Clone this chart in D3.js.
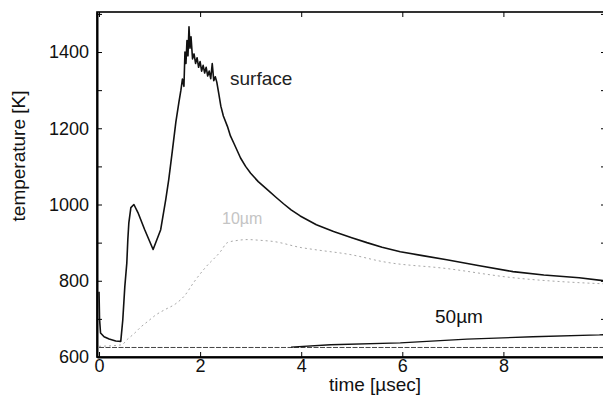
<!DOCTYPE html>
<html>
<head>
<meta charset="utf-8">
<script src="https://d3js.org/d3.v7.min.js"></script>
<style>
  body { margin: 0; background: #fff; }
  svg { display: block; font-family: "Liberation Sans", Arial, sans-serif; }
  .axis path, .axis line { stroke: #000; }
  .axis text { font-size: 18px; fill: #111; }
</style>
</head>
<body>
<script>
// surface temperature (time in usec, temperature in K)
let surfaceTime = [0, 0.01, 0.03, 0.1, 0.2, 0.33, 0.43, 0.47, 0.51, 0.55, 0.57, 0.59, 0.63, 0.69, 0.77, 0.9,
  1.07, 1.22, 1.32, 1.38, 1.45, 1.52, 1.58, 1.62, 1.65, 1.68, 1.7, 1.72, 1.74, 1.76, 1.78, 1.8, 1.82, 1.85,
  1.88, 1.91, 1.94, 1.97, 2.0, 2.03, 2.06, 2.09, 2.12, 2.15, 2.18, 2.21, 2.24, 2.27, 2.3, 2.33, 2.37, 2.41,
  2.46, 2.54, 2.6, 2.67, 2.8, 2.9, 3.0, 3.15, 3.33, 3.5, 3.65, 3.8, 3.98, 4.3, 4.64, 5.0, 5.3, 5.6, 5.96,
  6.4, 6.88, 7.5, 8.19, 8.8, 9.5, 10];
let surfaceTemp = [771, 700, 663, 653, 647, 642, 641, 697, 784, 847, 908, 952, 992, 1000, 979, 935,
  882, 934, 1013, 1066, 1140, 1216, 1268, 1300, 1329, 1310, 1400, 1370, 1430, 1390, 1466, 1410, 1440, 1382,
  1395, 1370, 1385, 1360, 1375, 1350, 1365, 1345, 1360, 1337, 1350, 1330, 1370, 1325, 1335, 1321, 1290, 1258,
  1232, 1205, 1180, 1160, 1122, 1100, 1082, 1060, 1039, 1019, 1002, 986, 970, 947, 929, 913, 900, 888, 876,
  866, 855, 840, 824, 815, 808, 800];

// 10um depth
let depth10Time = [0, 0.45, 0.55, 0.7, 0.83, 0.98, 1.12, 1.3, 1.52, 1.7, 1.87, 2.1, 2.4, 2.54, 2.75, 2.93,
  3.2, 3.45, 4.0, 4.25, 5.0, 5.62, 6.88, 8.19, 9.5, 10];
let depth10Temp = [628, 632, 645, 662, 679, 695, 710, 724, 740, 762, 795, 834, 876, 900, 906, 908,
  906, 903, 887, 882, 868, 850, 832, 808, 795, 792];

// 50um depth
let depth50Time = [3.8, 4.58, 5.96, 7.28, 8.58, 9.9, 10.03];
let depth50Temp = [626, 632, 637, 647, 653, 658, 659];

// deep baseline
let baseTime = [0, 10.03];
let baseTemp = [625, 625];

let yMajor = [600, 800, 1000, 1200, 1400];
let yMinor = [700, 900, 1100, 1300, 1500];
let xTicks = [0, 2, 4, 6, 8];

let width = 603, height = 397;
let margin = { left: 97, right: 606, top: 12, bottom: 357 };

let svg = d3.select('body').append('svg')
  .attr('width', width)
  .attr('height', height);

let x = d3.scaleLinear().domain([-0.04, 10.03]).range([margin.left, margin.right]);
let y = d3.scaleLinear().domain([600, 1505]).range([margin.bottom, margin.top]);

function zip(t, v) {
  return t.map(function (d, i) { return { t: d, v: v[i] }; });
}

let line = d3.line()
  .x(function (d) { return x(d.t); })
  .y(function (d) { return y(d.v); });

let smooth = d3.line()
  .curve(d3.curveMonotoneX)
  .x(function (d) { return x(d.t); })
  .y(function (d) { return y(d.v); });

// frame
svg.append('rect')
  .attr('x', margin.left).attr('y', margin.top)
  .attr('width', margin.right - margin.left)
  .attr('height', margin.bottom - margin.top)
  .attr('fill', 'none').attr('stroke', '#000').attr('stroke-width', 1.6);

// curves
svg.append('path')
  .attr('d', line(zip(baseTime, baseTemp)))
  .attr('fill', 'none').attr('stroke', '#444').attr('stroke-width', 1)
  .attr('stroke-dasharray', '5,1.5');

svg.append('path')
  .attr('d', smooth(zip(depth10Time, depth10Temp)))
  .attr('fill', 'none').attr('stroke', '#a8a8a8').attr('stroke-width', 1)
  .attr('stroke-dasharray', '2,3');

svg.append('path')
  .attr('d', line(zip(depth50Time, depth50Temp)))
  .attr('fill', 'none').attr('stroke', '#111').attr('stroke-width', 1.4);

svg.append('path')
  .attr('d', line(zip(surfaceTime, surfaceTemp)))
  .attr('fill', 'none').attr('stroke', '#111').attr('stroke-width', 1.6)
  .attr('stroke-linejoin', 'round');

// axes
svg.append('g').attr('class', 'axis')
  .attr('transform', 'translate(' + margin.left + ',0)')
  .call(d3.axisLeft(y).tickValues(yMajor).tickFormat(d3.format('d'))
    .tickSize(-5).tickSizeOuter(0).tickPadding(8))
  .call(function (g) { g.select('.domain').attr('stroke-width', 2); });

svg.append('g').attr('class', 'axis')
  .attr('transform', 'translate(' + margin.left + ',0)')
  .call(d3.axisLeft(y).tickValues(yMinor).tickSize(-5).tickSizeOuter(0).tickFormat(''))
  .call(function (g) { g.select('.domain').remove(); });

svg.append('g').attr('class', 'axis')
  .attr('transform', 'translate(' + margin.right + ',0)')
  .call(d3.axisRight(y).tickValues(yMajor.concat(yMinor)).tickSize(-5).tickSizeOuter(0).tickFormat(''))
  .call(function (g) { g.select('.domain').remove(); });

svg.append('g').attr('class', 'axis')
  .attr('transform', 'translate(0,' + margin.bottom + ')')
  .call(d3.axisBottom(x).tickValues(xTicks).tickFormat(d3.format('d'))
    .tickSize(-5).tickSizeOuter(0).tickPadding(2))
  .call(function (g) { g.select('.domain').attr('stroke-width', 2.2); });

svg.append('g').attr('class', 'axis')
  .attr('transform', 'translate(0,' + margin.top + ')')
  .call(d3.axisTop(x).tickValues(xTicks).tickSize(-5).tickSizeOuter(0).tickFormat(''))
  .call(function (g) { g.select('.domain').remove(); });

// axis titles
svg.append('text')
  .attr('x', 375).attr('y', 391)
  .attr('text-anchor', 'middle')
  .style('font-size', '19px').attr('fill', '#111')
  .text('time [µsec]');

svg.append('text')
  .attr('transform', 'translate(25,156) rotate(-90)')
  .attr('text-anchor', 'middle')
  .style('font-size', '19px').attr('fill', '#111')
  .text('temperature [K]');

// curve labels
svg.append('text')
  .attr('x', 230).attr('y', 85)
  .style('font-size', '19px').attr('fill', '#222')
  .text('surface');

svg.append('text')
  .attr('x', 222).attr('y', 224)
  .style('font-size', '16px').attr('fill', '#c4c4c4')
  .text('10µm');

svg.append('text')
  .attr('x', 435).attr('y', 323)
  .style('font-size', '19px').attr('fill', '#111')
  .text('50µm');
</script>
</body>
</html>
